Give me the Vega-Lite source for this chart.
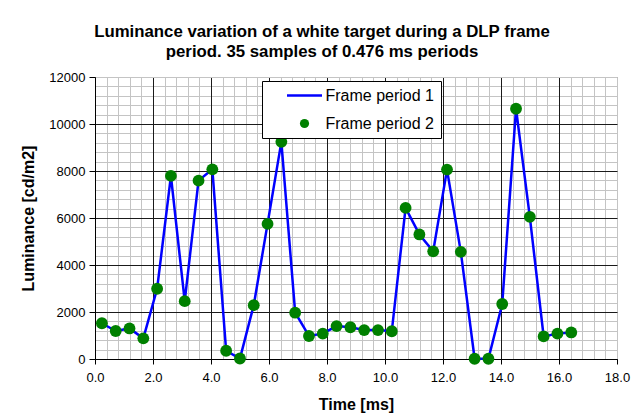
{
  "$schema": "https://vega.github.io/schema/vega-lite/v6.json",
  "width": 522,
  "height": 282,
  "autosize": {"type": "none"},
  "padding": {"left": 95, "top": 77, "right": 24, "bottom": 58},
  "background": "white",
  "title": {
    "text": ["Luminance variation of a white target during a DLP frame", "period. 35 samples of 0.476 ms periods"],
    "font": "Liberation Sans",
    "fontSize": 16.8,
    "fontWeight": "bold",
    "color": "black",
    "anchor": "middle",
    "frame": "group",
    "dx": -34,
    "offset": 10,
    "lineHeight": 20
  },
  "config": {
    "view": {"stroke": "#808080", "strokeWidth": 1},
    "font": "Liberation Sans"
  },
  "data": {
    "values": [
      {"t": 0.238, "lum": 1520, "series": "Frame period 1"},
      {"t": 0.714, "lum": 1190, "series": "Frame period 1"},
      {"t": 1.190, "lum": 1300, "series": "Frame period 1"},
      {"t": 1.666, "lum": 880, "series": "Frame period 1"},
      {"t": 2.142, "lum": 2990, "series": "Frame period 1"},
      {"t": 2.618, "lum": 7790, "series": "Frame period 1"},
      {"t": 3.094, "lum": 2460, "series": "Frame period 1"},
      {"t": 3.570, "lum": 7590, "series": "Frame period 1"},
      {"t": 4.046, "lum": 8070, "series": "Frame period 1"},
      {"t": 4.522, "lum": 350, "series": "Frame period 1"},
      {"t": 4.998, "lum": 20, "series": "Frame period 1"},
      {"t": 5.474, "lum": 2290, "series": "Frame period 1"},
      {"t": 5.950, "lum": 5750, "series": "Frame period 1"},
      {"t": 6.426, "lum": 9240, "series": "Frame period 1"},
      {"t": 6.902, "lum": 1970, "series": "Frame period 1"},
      {"t": 7.378, "lum": 980, "series": "Frame period 1"},
      {"t": 7.854, "lum": 1080, "series": "Frame period 1"},
      {"t": 8.330, "lum": 1400, "series": "Frame period 1"},
      {"t": 8.806, "lum": 1350, "series": "Frame period 1"},
      {"t": 9.282, "lum": 1230, "series": "Frame period 1"},
      {"t": 9.758, "lum": 1230, "series": "Frame period 1"},
      {"t": 10.234, "lum": 1180, "series": "Frame period 1"},
      {"t": 10.710, "lum": 6430, "series": "Frame period 1"},
      {"t": 11.186, "lum": 5300, "series": "Frame period 1"},
      {"t": 11.662, "lum": 4580, "series": "Frame period 1"},
      {"t": 12.138, "lum": 8060, "series": "Frame period 1"},
      {"t": 12.614, "lum": 4560, "series": "Frame period 1"},
      {"t": 13.090, "lum": 10, "series": "Frame period 1"},
      {"t": 13.566, "lum": 10, "series": "Frame period 1"},
      {"t": 14.042, "lum": 2340, "series": "Frame period 1"},
      {"t": 14.518, "lum": 10650, "series": "Frame period 1"},
      {"t": 14.994, "lum": 6050, "series": "Frame period 1"},
      {"t": 15.470, "lum": 960, "series": "Frame period 1"},
      {"t": 15.946, "lum": 1080, "series": "Frame period 1"},
      {"t": 16.422, "lum": 1130, "series": "Frame period 1"},
      {"t": 0.238, "lum": 1520, "series": "Frame period 2"},
      {"t": 0.714, "lum": 1190, "series": "Frame period 2"},
      {"t": 1.190, "lum": 1300, "series": "Frame period 2"},
      {"t": 1.666, "lum": 880, "series": "Frame period 2"},
      {"t": 2.142, "lum": 2990, "series": "Frame period 2"},
      {"t": 2.618, "lum": 7790, "series": "Frame period 2"},
      {"t": 3.094, "lum": 2460, "series": "Frame period 2"},
      {"t": 3.570, "lum": 7590, "series": "Frame period 2"},
      {"t": 4.046, "lum": 8070, "series": "Frame period 2"},
      {"t": 4.522, "lum": 350, "series": "Frame period 2"},
      {"t": 4.998, "lum": 20, "series": "Frame period 2"},
      {"t": 5.474, "lum": 2290, "series": "Frame period 2"},
      {"t": 5.950, "lum": 5750, "series": "Frame period 2"},
      {"t": 6.426, "lum": 9240, "series": "Frame period 2"},
      {"t": 6.902, "lum": 1970, "series": "Frame period 2"},
      {"t": 7.378, "lum": 980, "series": "Frame period 2"},
      {"t": 7.854, "lum": 1080, "series": "Frame period 2"},
      {"t": 8.330, "lum": 1400, "series": "Frame period 2"},
      {"t": 8.806, "lum": 1350, "series": "Frame period 2"},
      {"t": 9.282, "lum": 1230, "series": "Frame period 2"},
      {"t": 9.758, "lum": 1230, "series": "Frame period 2"},
      {"t": 10.234, "lum": 1180, "series": "Frame period 2"},
      {"t": 10.710, "lum": 6430, "series": "Frame period 2"},
      {"t": 11.186, "lum": 5300, "series": "Frame period 2"},
      {"t": 11.662, "lum": 4580, "series": "Frame period 2"},
      {"t": 12.138, "lum": 8060, "series": "Frame period 2"},
      {"t": 12.614, "lum": 4560, "series": "Frame period 2"},
      {"t": 13.090, "lum": 10, "series": "Frame period 2"},
      {"t": 13.566, "lum": 10, "series": "Frame period 2"},
      {"t": 14.042, "lum": 2340, "series": "Frame period 2"},
      {"t": 14.518, "lum": 10650, "series": "Frame period 2"},
      {"t": 14.994, "lum": 6050, "series": "Frame period 2"},
      {"t": 15.470, "lum": 960, "series": "Frame period 2"},
      {"t": 15.946, "lum": 1080, "series": "Frame period 2"},
      {"t": 16.422, "lum": 1130, "series": "Frame period 2"}
    ]
  },
  "encoding": {
    "x": {
      "field": "t",
      "type": "quantitative",
      "scale": {"domain": [0, 18], "nice": false, "zero": false},
      "axis": {
        "values": [0, 0.4, 0.8, 1.2, 1.6, 2, 2.4, 2.8, 3.2, 3.6, 4, 4.4, 4.8, 5.2, 5.6, 6, 6.4, 6.8, 7.2, 7.6, 8, 8.4, 8.8, 9.2, 9.6, 10, 10.4, 10.8, 11.2, 11.6, 12, 12.4, 12.8, 13.2, 13.6, 14, 14.4, 14.8, 15.2, 15.6, 16, 16.4, 16.8, 17.2, 17.6, 18],
        "format": ".1f",
        "labelExpr": "datum.value % 2 === 0 ? datum.label : ''",
        "labelOverlap": false,
        "labelFlush": false,
        "labelFont": "Liberation Sans",
        "labelFontSize": 13,
        "labelColor": "black",
        "labelPadding": 7,
        "tickSize": 5,
        "tickColor": "black",
        "tickOpacity": {"condition": {"test": "datum.value % 2 === 0", "value": 1}, "value": 0},
        "domainColor": "black",
        "domainWidth": 1,
        "grid": true,
        "gridWidth": 1,
        "gridColor": {"condition": {"test": "datum.value % 2 === 0 && datum.value < 18", "value": "#1a1a1a"}, "value": "#c4c4c4"},
        "gridOpacity": 1,
        "title": "Time [ms]",
        "titleFont": "Liberation Sans",
        "titleFontSize": 16,
        "titleFontWeight": "bold",
        "titleColor": "black",
        "titlePadding": 12
      }
    },
    "y": {
      "field": "lum",
      "type": "quantitative",
      "scale": {"domain": [0, 12000], "nice": false},
      "axis": {
        "values": [0, 400, 800, 1200, 1600, 2000, 2400, 2800, 3200, 3600, 4000, 4400, 4800, 5200, 5600, 6000, 6400, 6800, 7200, 7600, 8000, 8400, 8800, 9200, 9600, 10000, 10400, 10800, 11200, 11600, 12000],
        "format": "d",
        "labelExpr": "datum.value % 2000 === 0 ? datum.label : ''",
        "labelOverlap": false,
        "labelFlush": false,
        "labelFont": "Liberation Sans",
        "labelFontSize": 13,
        "labelColor": "black",
        "labelPadding": 4,
        "tickSize": 6,
        "tickColor": "black",
        "tickOpacity": {"condition": {"test": "datum.value % 2000 === 0", "value": 1}, "value": 0},
        "domainColor": "black",
        "domainWidth": 1,
        "grid": true,
        "gridWidth": 1,
        "gridColor": {"condition": {"test": "datum.value % 2000 === 0 && datum.value < 12000", "value": "#1a1a1a"}, "value": "#c4c4c4"},
        "gridDash": {"condition": {"test": "datum.value % 2000 !== 0", "value": [57, 1]}, "value": []},
        "gridDashOffset": -0.5,
        "gridOpacity": 1,
        "title": "Luminance [cd/m2]",
        "titleFont": "Liberation Sans",
        "titleFontSize": 16,
        "titleFontWeight": "bold",
        "titleColor": "black",
        "titlePadding": 12
      }
    },
    "color": {
      "field": "series",
      "type": "nominal",
      "scale": {"domain": ["Frame period 1", "Frame period 2"], "range": ["#0000FF", "#008000"]},
      "legend": {
        "title": null,
        "orient": "none",
        "legendX": 167,
        "legendY": 4,
        "direction": "vertical",
        "strokeColor": "black",
        "fillColor": "white",
        "padding": 6.5,
        "symbolSize": 1225,
        "symbolType": "circle",
        "symbolOffset": 28,
        "labelOffset": 13,
        "rowPadding": 12,
        "labelFont": "Liberation Sans",
        "labelFontSize": 16,
        "labelColor": "black",
        "labelExpr": "datum.label + '       '",
        "encoding": {
          "symbols": {
            "shape": {"value": {"expr": "datum.value === 'Frame period 1' ? 'stroke' : 'circle'"}},
            "size": {"value": {"expr": "datum.value === 'Frame period 1' ? 1225 : 85"}},
            "stroke": {"value": {"expr": "datum.value === 'Frame period 1' ? '#0000FF' : 'transparent'"}},
            "fill": {"value": {"expr": "datum.value === 'Frame period 1' ? 'transparent' : '#008000'"}},
            "strokeWidth": {"value": {"expr": "datum.value === 'Frame period 1' ? 2.5 : 0"}},
            "opacity": {"value": 1}
          }
        }
      }
    }
  },
  "layer": [
    {
      "transform": [{"filter": "datum.series === 'Frame period 1'"}],
      "mark": {"type": "line", "strokeWidth": 2.5}
    },
    {
      "transform": [{"filter": "datum.series === 'Frame period 2'"}],
      "mark": {"type": "circle", "size": 140, "opacity": 1}
    }
  ]
}
